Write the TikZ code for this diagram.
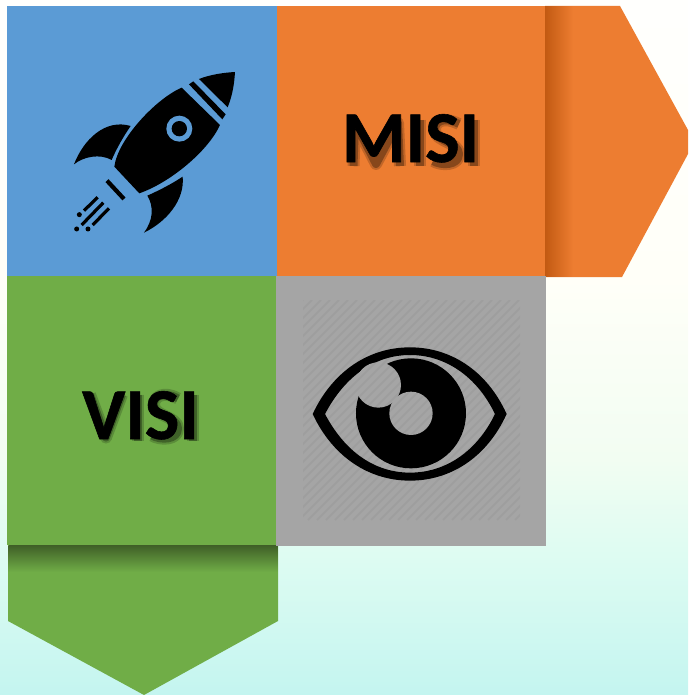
\documentclass[tikz,border=0pt]{standalone}
\usepackage{fontspec}
\setmainfont{Carlito}[BoldFeatures={FakeBold=0.8}]
\definecolor{cblue}{HTML}{5B9BD5}
\definecolor{corange}{HTML}{ED7D31}
\definecolor{cgreen}{HTML}{70AD47}
\definecolor{cgrey}{HTML}{A5A5A5}
\definecolor{corangedk}{HTML}{C25A12}
\definecolor{cgreendk}{HTML}{3F5F27}
\definecolor{bgA}{HTML}{C4F5F0}
\definecolor{bgB}{HTML}{DFFCF2}
\definecolor{bgC}{HTML}{F2FDF2}
\definecolor{bgD}{HTML}{FFFFF8}
\definecolor{bgE}{HTML}{FFFFFD}
\pgfdeclareverticalshading{pagebg}{100bp}{
  color(0bp)=(bgA); color(25bp)=(bgA); color(35.5bp)=(bgB); color(42bp)=(bgC); color(55bp)=(bgD); color(75bp)=(bgE); color(100bp)=(bgE)}
\newcommand\misiglyphs[1]{%
  \draw[#1] (350.5,162) -- (352,119) -- (373,160) -- (395,119) -- (397,162);
  \draw[#1] (417,116) -- (417,162);
  \draw[#1] (456,120) .. controls (440,112) and (431,118) .. (432,127)
     .. controls (433,138) and (456,138) .. (456,150) .. controls (456,162) and (438,162) .. (430,157);
  \draw[#1] (470.5,116) -- (470.5,162);
}
\newcommand\visiglyphs[1]{%
  \draw[#1] (88,393) -- (104,436) -- (120,393);
  \draw[#1] (135.5,393) -- (135.5,439);
  \draw[#1] (176,397) .. controls (162,389) and (151,395) .. (152,404)
     .. controls (153,415) and (176,415) .. (176,427) .. controls (176,439) and (158,439) .. (150,434);
  \draw[#1] (191,393) -- (191,439);
}
\tikzset{
  px/.style={x=1pt,y=-1pt},
  tile/.style={draw=none,minimum width=#1,inner sep=0pt,outer sep=0pt},
  word/.style={font=\bfseries\fontsize{73}{73}\selectfont,text=black,inner sep=0pt,anchor=base},
  glow/.style={draw=black,opacity=0.18,line width=12pt,line join=round},
  core/.style={draw=black,opacity=0.3,line width=8pt,line join=round},
  icon/.style={fill=black,draw=none}
}
\begin{document}
\begin{tikzpicture}[px]
\useasboundingbox (0,0) rectangle (688,695);
\shade[shading=pagebg] (0,0) rectangle (688,695);
% orange arrow tab
\fill[corange] (545,6) -- (620,6) -- (688,130) -- (688,154) -- (622,277) -- (545,277) -- cycle;
\shade[left color=corangedk,right color=corange,draw=none] (545,6.5) rectangle (573,276.5);
% green arrow tab
\fill[cgreen] (8,545) -- (278,545) -- (278,621) -- (144,695) -- (8,621) -- cycle;
\shade[top color=cgreendk,bottom color=cgreen,draw=none] (8.5,545) rectangle (277.5,572);
% tiles
\node[tile=270pt,minimum height=270pt,fill=cblue,anchor=north west] (rocket) at (7,6) {};
\node[tile=268pt,minimum height=270pt,fill=corange,anchor=north west] (misi) at (277,6) {};
\node[tile=270pt,minimum height=269pt,fill=cgreen,anchor=north west] (visi) at (7,276) {};
\node[tile=270pt,minimum height=270pt,fill=cgrey,anchor=north west] (eye) at (276,276) {};
% soft shadows of the labels
\begin{scope}[shift={(3,4)}]
  \misiglyphs{glow}
  \misiglyphs{core}
\end{scope}
\begin{scope}[shift={(2,1.5)}]
  \visiglyphs{glow}
  \visiglyphs{core}
\end{scope}
% labels
\node[word] (misit) at (410.5,162) {MISI};
\node[word] (visit) at (140.5,439) {VISI};
% rocket icon
\begin{scope}[shift={(50,50)},x=0.3333pt,y=-0.3333pt]
  \fill[icon] (395,113) .. controls (320,145) and (204,266) .. (193,350) -- (268,430)
     .. controls (360,398) and (474,304) .. (510,225) -- cycle;
  \fill[cblue] (388,236) circle [radius=39pt/3];
  \fill[black] (388,236) circle [radius=23pt/3];
  \fill[icon] (417,103) -- (430,94) -- (527,193) -- (517,208) -- cycle;
  \fill[icon] (447,87) .. controls (480,74) and (520,68) .. (555,66)
     .. controls (553,100) and (548,135) .. (533,172) -- cycle;
  \fill[icon] (242,228) .. controls (165,205) and (100,270) .. (72,343)
     .. controls (100,320) and (150,310) .. (185,330) .. controls (200,295) and (220,260) .. (242,228) -- cycle;
  \fill[icon] (398,380) .. controls (405,450) and (350,515) .. (282,548)
     .. controls (310,510) and (312,470) .. (292,437) .. controls (330,420) and (365,402) .. (398,380) -- cycle;
  \draw[black,line width=4.2pt] (171,392) -- (222,447);
  \draw[black,line width=3.2pt] (143,442) -- (102,482);
  \draw[black,line width=3.2pt] (160,458) -- (95,525);
  \draw[black,line width=3.2pt] (177,475) -- (128,525);
  \fill[black] (88,494) circle [radius=7.5pt/3];
  \fill[black] (80,537) circle [radius=7.5pt/3];
  \fill[black] (114,537) circle [radius=7.5pt/3];
\end{scope}
% eye icon
\begin{scope}[shift={(290,290)},x=0.3333pt,y=-0.3333pt]
  \fill[icon,even odd rule] (68,372) .. controls (130,240) and (240,172) .. (360,172)
     .. controls (480,172) and (590,240) .. (650,372)
     .. controls (590,504) and (480,572) .. (360,572)
     .. controls (240,572) and (130,504) .. (68,372) -- cycle
     (105,372) .. controls (165,258) and (255,195) .. (360,195)
     .. controls (465,195) and (560,258) .. (615,372)
     .. controls (560,486) and (465,548) .. (360,548)
     .. controls (255,548) and (165,486) .. (105,372) -- cycle;
  \fill[black] (363,370) circle [radius=165pt/3];
  \fill[cgrey] (265,285) circle [radius=68pt/3];
  \fill[cgrey] (363,370) circle [radius=65pt/3];
\end{scope}
% faint hatching of the icon's square
\begin{scope}
  \clip (303,300) rectangle (520,520);
  \foreach \k in {0,...,49}{
    \draw[black,opacity=0.04,line width=1.8pt] (303+\k*9-220,520) -- (303+\k*9,300);
  }
\end{scope}
\end{tikzpicture}
\end{document}
